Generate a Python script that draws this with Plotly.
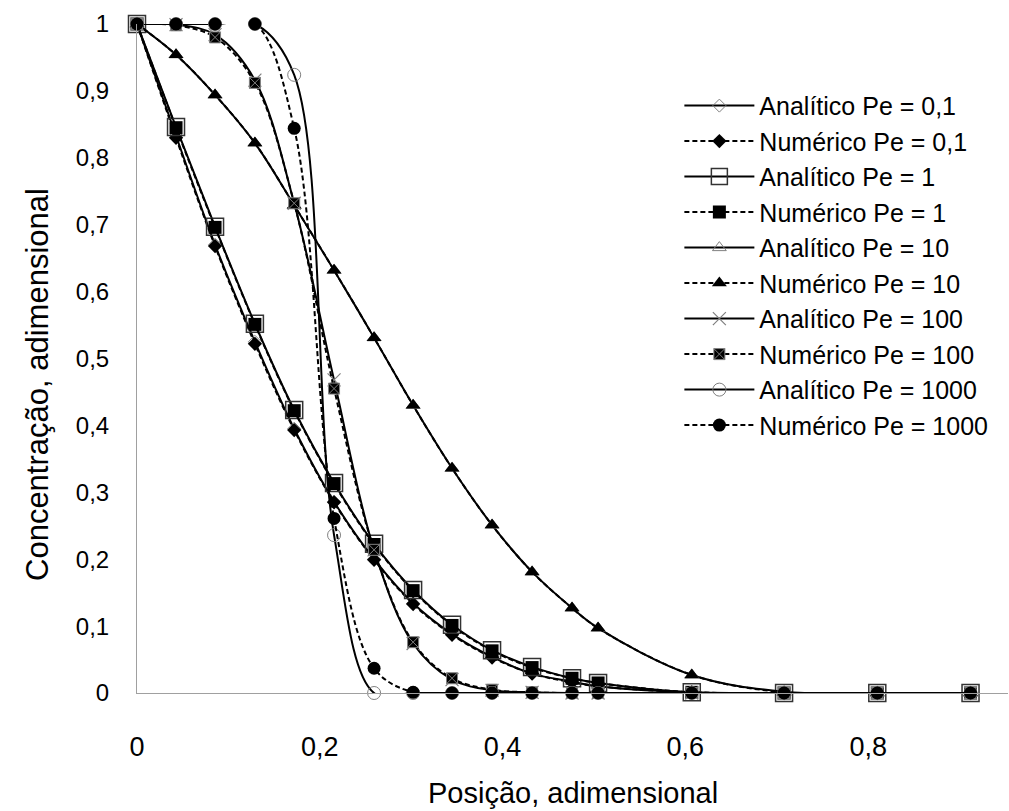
import plotly.graph_objects as go

# ---- data ----
posicao = [0, 0.0427, 0.0854, 0.129, 0.172, 0.2156, 0.2594, 0.3021, 0.3447,
           0.3885, 0.4323, 0.476, 0.5045, 0.607, 0.708, 0.81, 0.912]

an_pe01 = [1, 0.833, 0.670, 0.525, 0.395, 0.286, 0.200, 0.134, 0.088, 0.054, 0.029, 0.017, 0.010, 0.001, 0, 0, 0]
nu_pe01 = [1, 0.830, 0.668, 0.522, 0.393, 0.285, 0.199, 0.133, 0.087, 0.053, 0.029, 0.016, 0.010, 0.001, 0, 0, 0]
an_pe1 = [1, 0.846, 0.697, 0.552, 0.423, 0.314, 0.223, 0.154, 0.102, 0.064, 0.039, 0.022, 0.015, 0.001, 0, 0, 0]
nu_pe1 = [1, 0.845, 0.696, 0.551, 0.422, 0.313, 0.222, 0.153, 0.101, 0.063, 0.038, 0.022, 0.015, 0.001, 0, 0, 0]
an_pe10 = [1, 0.954, 0.894, 0.822, 0.729, 0.632, 0.531, 0.430, 0.336, 0.251, 0.181, 0.127, 0.097, 0.027, 0.002, 0, 0]
nu_pe10 = [1, 0.954, 0.894, 0.822, 0.729, 0.632, 0.531, 0.430, 0.336, 0.251, 0.181, 0.127, 0.097, 0.027, 0.001, 0, 0]
an_pe100 = [1, 0.999, 0.984, 0.916, 0.732, 0.468, 0.214, 0.074, 0.020, 0.004, 0.001, 0, 0, 0, 0, 0, 0]
nu_pe100 = [1, 0.998, 0.980, 0.912, 0.732, 0.455, 0.214, 0.076, 0.022, 0.005, 0.001, 0, 0, 0, 0, 0, 0]
an_pe1000 = [1, 1, 1, 1, 0.924, 0.236, 0.0, 0, 0, 0, 0, 0, 0, 0, 0, 0, 0]
nu_pe1000 = [1, 1, 1, 1, 0.844, 0.261, 0.037, 0.001, 0, 0, 0, 0, 0, 0, 0, 0, 0]

series_names = ["Analítico Pe = 0,1", "Numérico Pe = 0,1",
                "Analítico Pe = 1", "Numérico Pe = 1",
                "Analítico Pe = 10", "Numérico Pe = 10",
                "Analítico Pe = 100", "Numérico Pe = 100",
                "Analítico Pe = 1000", "Numérico Pe = 1000"]
series_values = [an_pe01, nu_pe01, an_pe1, nu_pe1, an_pe10, nu_pe10,
                 an_pe100, nu_pe100, an_pe1000, nu_pe1000]

x_tickvals = [0, 0.2, 0.4, 0.6, 0.8]
x_ticktext = ["0", "0,2", "0,4", "0,6", "0,8"]
y_tickvals = [0, 0.1, 0.2, 0.3, 0.4, 0.5, 0.6, 0.7, 0.8, 0.9, 1]
y_ticktext = ["0", "0,1", "0,2", "0,3", "0,4", "0,5", "0,6", "0,7", "0,8", "0,9", "1"]

# ---- styles ----
GRAY = "#808080"
DASH = "5px,3px"
styles = [
    dict(symbol="diamond-open", size=10, color=GRAY, lw=1, dash="solid"),
    dict(symbol="diamond", size=11, color="black", lw=0, dash=DASH),
    dict(symbol="square-open", size=17, color="#333333", lw=1.5, dash="solid"),
    dict(symbol="square", size=13, color="black", lw=0, dash=DASH),
    dict(symbol="triangle-up-open", size=12, color=GRAY, lw=1, dash="solid"),
    dict(symbol="triangle-up", size=13, color="black", lw=0, dash=DASH),
    dict(symbol="x-thin-open", size=13, color=GRAY, lw=1.2, dash="solid"),
    dict(symbol="square-x", size=11, color="black", lw=1, dash=DASH),
    dict(symbol="circle-open", size=13, color=GRAY, lw=1, dash="solid"),
    dict(symbol="circle", size=13, color="black", lw=0, dash=DASH),
]

fig = go.Figure()
for name, vals, st in zip(series_names, series_values, styles):
    if st["symbol"] == "square-x":
        marker = dict(symbol="square-x", size=st["size"], color="black",
                      line=dict(color=GRAY, width=1))
    else:
        marker = dict(symbol=st["symbol"], size=st["size"], color=st["color"],
                      line=dict(color=st["color"], width=st["lw"]))
    fig.add_trace(go.Scatter(
        x=posicao, y=vals, name=name, mode="lines+markers",
        line=dict(color="black", width=2, dash=st["dash"], shape="spline", smoothing=1),
        marker=marker, cliponaxis=False,
    ))

FONT = "Liberation Sans, Arial, sans-serif"
fig.update_layout(
    width=1009, height=811,
    margin=dict(l=137, r=1, t=24, b=118),
    paper_bgcolor="white", plot_bgcolor="white",
    font=dict(family=FONT, color="black"),
    showlegend=True,
    legend=dict(x=0.6227, y=0.912, xanchor="left", yanchor="top",
                font=dict(size=25, family=FONT, color="black"),
                bgcolor="rgba(0,0,0,0)", itemwidth=70, tracegroupgap=0),
    xaxis=dict(range=[0, 0.953], showgrid=False, zeroline=False,
               showline=True, linecolor="#a0a0a0", linewidth=1,
               tickmode="array", tickvals=x_tickvals, ticktext=x_ticktext,
               ticks="outside", ticklen=30, tickcolor="rgba(0,0,0,0)",
               tickfont=dict(size=27, family=FONT, color="black")),
    yaxis=dict(range=[0, 1], showgrid=False, zeroline=False,
               showline=True, linecolor="#a0a0a0", linewidth=1,
               tickmode="array", tickvals=y_tickvals, ticktext=y_ticktext,
               ticks="outside", ticklen=22, tickcolor="rgba(0,0,0,0)",
               tickfont=dict(size=24, family=FONT, color="black")),
    annotations=[
        dict(text="Posição, adimensional", xref="paper", yref="paper",
             x=0.5, y=0, xanchor="center", yanchor="middle", yshift=-100,
             showarrow=False, font=dict(size=29, family=FONT, color="black")),
        dict(text="Concentração, adimensional", xref="paper", yref="paper",
             x=0, y=0.4604, xanchor="center", yanchor="middle", xshift=-99,
             textangle=-90, showarrow=False,
             font=dict(size=31, family=FONT, color="black")),
    ],
)

fig.write_html("out.html")
